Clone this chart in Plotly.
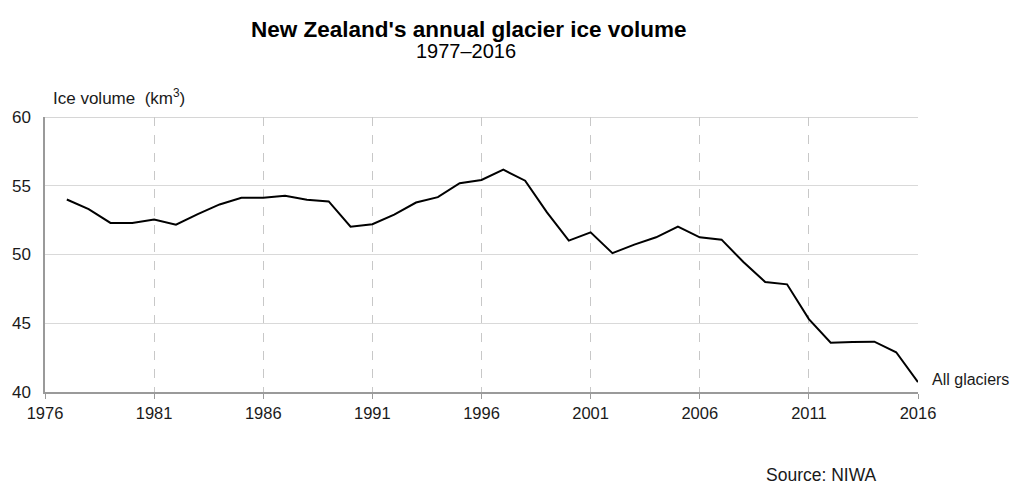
import plotly.graph_objects as go

years = list(range(1977, 2017))
ice_volume = [54.0, 53.3, 52.3, 52.3, 52.55, 52.17, 52.94, 53.64, 54.12, 54.12,
              54.27, 53.98, 53.86, 52.02, 52.2, 52.9, 53.78, 54.17, 55.18, 55.42,
              56.17, 55.37, 53.06, 51.01, 51.61, 50.1, 50.72, 51.25, 52.02, 51.25,
              51.08, 49.45, 48.0, 47.83, 45.3, 43.59, 43.64, 43.66, 42.89, 40.72]
x_ticks = [1976, 1981, 1986, 1991, 1996, 2001, 2006, 2011, 2016]
y_ticks = [40, 45, 50, 55, 60]

FONT = "Liberation Sans, Arial, sans-serif"
TXT = "#1a1a1a"

# page body has an 8px default margin; the figure is sized/offset accordingly
L, R, T, B = 37, 103, 109, 92
W, H = 1013, 476
PX0, PY1 = 45, 392  # viewport pixel of plot-area left / bottom
PW, PH = W - L - R, H - T - B


def px_to_paper(px, py):
    return (px - PX0) / PW, (PY1 - py) / PH


fig = go.Figure()
fig.add_trace(go.Scatter(x=years, y=ice_volume, mode="lines",
                         line=dict(color="#000000", width=2), showlegend=False,
                         hoverinfo="x+y"))

tx, ty = px_to_paper(469, 30)
sx, sy = px_to_paper(466, 51)
rx, ry = px_to_paper(821, 475)

fig.update_layout(
    width=W, height=H,
    margin=dict(l=L, r=R, t=T, b=B, autoexpand=False),
    paper_bgcolor="white", plot_bgcolor="white",
    font=dict(family=FONT, color=TXT, size=16),
    xaxis=dict(range=[1976, 2016], tickvals=x_ticks, ticktext=[str(v) for v in x_ticks],
               showgrid=True, gridcolor="#c8c8c8", griddash="dash", gridwidth=1,
               showline=True, linecolor="#9a9a9a", linewidth=1.5,
               ticks="outside", ticklen=5, tickcolor="#9a9a9a",
               tickfont=dict(size=16.5, family=FONT, color=TXT),
               zeroline=False, automargin=False),
    yaxis=dict(range=[40, 60], tickvals=y_ticks,
               showgrid=True, gridcolor="#d9d9d9", gridwidth=1,
               showline=True, linecolor="#9a9a9a", linewidth=1.5,
               ticks="", tickfont=dict(size=17, family=FONT, color=TXT),
               zeroline=False, ticklabelstandoff=9, automargin=False),
    annotations=[
        dict(text="<b>New Zealand's annual glacier ice volume</b>", x=tx, y=ty,
             xref="paper", yref="paper", xanchor="center", yanchor="middle",
             showarrow=False, font=dict(size=22.5, family=FONT, color="#000")),
        dict(text="1977–2016", x=sx, y=sy, xref="paper", yref="paper",
             xanchor="center", yanchor="middle", showarrow=False,
             font=dict(size=20, family=FONT, color="#000")),
        dict(text="Ice volume  (km<sup>3</sup>)", x=1976, y=60, xref="x", yref="y",
             xanchor="left", yanchor="bottom", xshift=6, yshift=7, showarrow=False,
             font=dict(size=17, family=FONT, color=TXT)),
        dict(text="All glaciers", x=2016, y=ice_volume[-1], xref="x", yref="y",
             xanchor="left", yanchor="middle", xshift=12, yshift=3, showarrow=False,
             font=dict(size=16, family=FONT, color=TXT)),
        dict(text="Source: NIWA", x=rx, y=ry, xref="paper", yref="paper",
             xanchor="center", yanchor="middle", showarrow=False,
             font=dict(size=17.5, family=FONT, color=TXT)),
    ],
)

fig.add_shape(type="line", xref="x", yref="y", x0=1976, x1=2016, y0=60, y1=60,
              line=dict(color="#c8c8c8", width=1.5), layer="below")

fig.write_html("out.html")
